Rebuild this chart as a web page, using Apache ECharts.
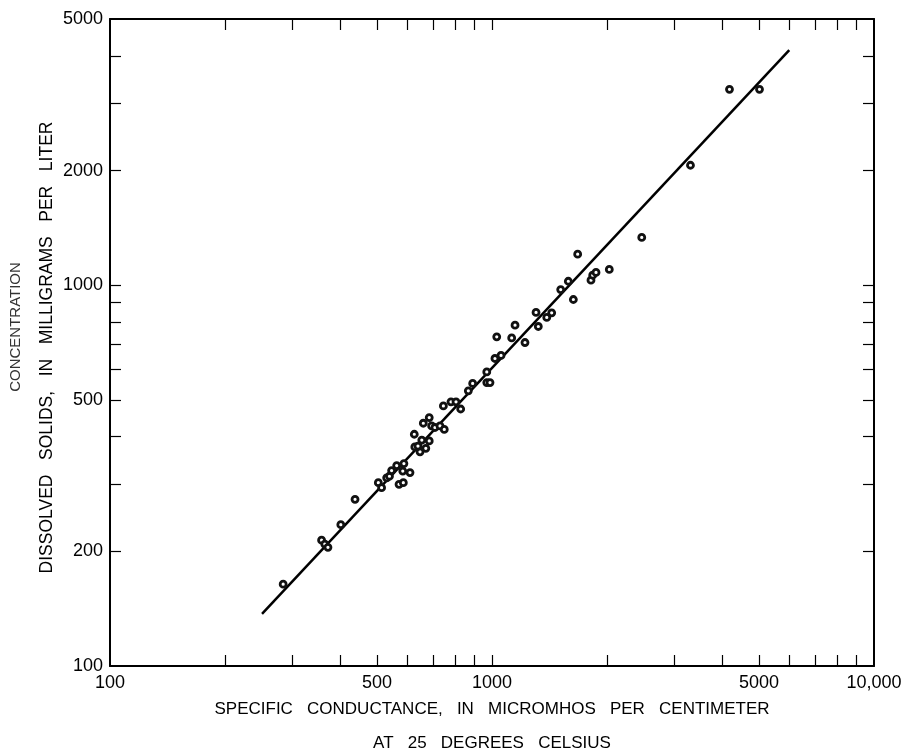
<!DOCTYPE html>
<html>
<head>
<meta charset="utf-8">
<script src="https://cdn.jsdelivr.net/npm/echarts@6/dist/echarts.min.js"></script>
<style>
  html, body { margin: 0; padding: 0; background: #fff; }
  #chart { width: 905px; height: 751px; }
</style>
</head>
<body>
<div id="chart"></div>
<script>
// specific conductance (micromhos/cm) and dissolved solids (mg/L)
var conductance = [284, 358, 365, 372, 402, 438, 504, 514, 530, 539, 546, 563, 584, 588, 610, 571, 586,
  626, 628, 648, 655, 671, 685, 640, 661, 685, 695, 709, 731, 750, 746, 781, 805, 828, 867, 890,
  969, 988, 969, 1018, 1056, 1029, 1126, 1149, 1220, 1304, 1322, 1391, 1433, 1513, 1584, 1633,
  1676, 1816, 1835, 1872, 2028, 2466, 3308, 4185, 5015];
var solids = [164, 214, 209, 205, 235, 274, 303, 294, 312, 315, 326, 336, 325, 340, 322, 300, 303,
  406, 376, 365, 392, 373, 390, 378, 434, 449, 427, 423, 427, 418, 482, 494, 494, 473, 528, 552,
  555, 555, 592, 642, 654, 732, 727, 785, 707, 848, 779, 823, 846, 974, 1024, 917,
  1206, 1031, 1062, 1080, 1100, 1335, 2065, 3268, 3268];

// fitted line end points
var fitX = [250, 6000];
var fitY = [137, 4140];

// tick labels and tick marks
var xLabels = [100, 500, 1000, 5000, 10000];
var xTicks = [200, 300, 400, 500, 600, 700, 800, 900, 1000, 2000, 3000, 4000, 5000, 6000, 7000, 8000, 9000];
var yLabels = [100, 200, 500, 1000, 2000, 5000];
var yTicks = [200, 300, 400, 500, 600, 700, 800, 900, 1000, 2000, 3000, 4000];

var font = 'Liberation Sans';
var chart = echarts.init(document.getElementById('chart'));

var points = conductance.map(function (c, i) { return [c, solids[i]]; });
var fitLine = fitX.map(function (x, i) { return [x, fitY[i]]; });

function frameAxis(pos, isX) {
  return {
    type: 'log',
    position: pos,
    min: 100,
    max: isX ? 10000 : 5000,
    axisLine: { show: true, onZero: false, lineStyle: { color: '#000', width: 2 } },
    axisTick: { show: true, inside: true, length: 11, customValues: isX ? xTicks : yTicks,
      lineStyle: { color: '#000', width: 1.2 } },
    axisLabel: { show: false },
    splitLine: { show: false },
    minorTick: { show: false }
  };
}

chart.setOption({
  animation: false,
  backgroundColor: '#fff',
  grid: { left: 110, right: 31, top: 19, bottom: 85, outerBoundsMode: 'none', containLabel: false },
  xAxis: [
    {
      type: 'log',
      min: 100,
      max: 10000,
      name: 'SPECIFIC   CONDUCTANCE,   IN   MICROMHOS   PER   CENTIMETER\nAT   25   DEGREES   CELSIUS',
      nameLocation: 'middle',
      nameGap: 26,
      nameMoveOverlap: false,
      nameTextStyle: { fontFamily: font, fontSize: 17, color: '#000', lineHeight: 34, verticalAlign: 'top' },
      axisLine: { show: true, lineStyle: { color: '#000', width: 2 } },
      axisTick: { show: true, inside: true, length: 11, customValues: xTicks,
        lineStyle: { color: '#000', width: 1.2 } },
      axisLabel: {
        show: true,
        customValues: xLabels,
        margin: 8,
        fontFamily: font,
        fontSize: 18,
        color: '#000',
        formatter: function (v) {
          v = Math.round(v);
          return v === 10000 ? '10,000' : String(v);
        }
      },
      splitLine: { show: false }
    },
    frameAxis('top', true)
  ],
  yAxis: [
    {
      type: 'log',
      min: 100,
      max: 5000,
      name: 'DISSOLVED   SOLIDS,   IN   MILLIGRAMS   PER   LITER',
      nameLocation: 'middle',
      nameRotate: 90,
      nameGap: 54,
      nameMoveOverlap: false,
      nameTextStyle: { fontFamily: font, fontSize: 17.5, color: '#000', padding: [0, 10, 0, 0] },
      axisLine: { show: true, lineStyle: { color: '#000', width: 2 } },
      axisTick: { show: true, inside: true, length: 11, customValues: yTicks,
        lineStyle: { color: '#000', width: 1.2 } },
      axisLabel: {
        show: true,
        customValues: yLabels,
        margin: 7,
        fontFamily: font,
        fontSize: 18,
        color: '#000',
        formatter: function (v) { return String(Math.round(v)); }
      },
      splitLine: { show: false }
    },
    frameAxis('right', false)
  ],
  graphic: [
    {
      type: 'text',
      x: 16,
      y: 327,
      rotation: Math.PI / 2,
      style: {
        text: 'CONCENTRATION',
        fontFamily: font,
        fontSize: 15,
        fill: '#333',
        align: 'center',
        verticalAlign: 'middle'
      }
    }
  ],
  series: [
    {
      type: 'line',
      xAxisIndex: 0,
      yAxisIndex: 0,
      data: fitLine,
      showSymbol: false,
      lineStyle: { color: '#000', width: 2.5 },
      z: 2
    },
    {
      type: 'scatter',
      xAxisIndex: 0,
      yAxisIndex: 0,
      data: points,
      symbol: 'circle',
      symbolSize: 6,
      itemStyle: { color: '#fff', borderColor: '#111', borderWidth: 2.8, opacity: 1 },
      z: 3
    }
  ]
});
</script>
</body>
</html>
